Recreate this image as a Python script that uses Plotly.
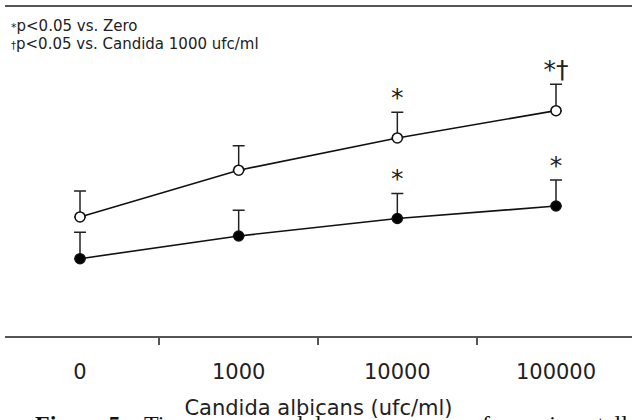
import plotly.graph_objects as go

# ---- data ----
categories = ["0", "1000", "10000", "100000"]
open_mean = [36.2, 50.4, 60.2, 68.5]
open_sd = [7.9, 7.4, 7.8, 8.0]
filled_mean = [23.5, 30.4, 35.7, 39.5]
filled_sd = [8.0, 7.8, 7.6, 7.9]
open_sig = ["", "", "*", "*†"]
filled_sig = ["", "", "*", "*"]
no_lower = [0, 0, 0, 0]

x_title = "Candida albicans (ufc/ml)"
note_1 = "*p<0.05 vs. Zero"
note_2 = "†p<0.05 vs. Candida 1000 ufc/ml"

FONT = "DejaVu Sans"
INK = "#111111"

fig = go.Figure()

for mean, sd, fill in [(filled_mean, filled_sd, "black"), (open_mean, open_sd, "white")]:
    fig.add_trace(go.Scatter(
        x=categories, y=mean, mode="lines+markers",
        line=dict(color=INK, width=1.6),
        marker=dict(symbol="circle", size=10, color=fill, line=dict(color=INK, width=1.5)),
        error_y=dict(type="data", symmetric=False, array=sd, arrayminus=no_lower,
                     color="#222222", thickness=1.5, width=6),
        showlegend=False, hoverinfo="skip",
    ))

for mean, sd, sig in [(open_mean, open_sd, open_sig), (filled_mean, filled_sd, filled_sig)]:
    fig.add_trace(go.Scatter(
        x=categories, y=[m + s for m, s in zip(mean, sd)], mode="text",
        text=sig, textposition="top center",
        textfont=dict(family=FONT, size=25, color="#222222"),
        showlegend=False, hoverinfo="skip",
    ))

cap_font = dict(family="Liberation Serif", size=24, color="#111111")

fig.update_layout(
    width=632, height=420,
    margin=dict(l=5, r=0, t=7, b=84),
    paper_bgcolor="white", plot_bgcolor="white",
    xaxis=dict(
        type="category", categoryorder="array", categoryarray=categories,
        range=[-0.4727, 3.479],
        showline=True, linecolor="#555555", linewidth=2, mirror=True,
        ticks="outside", ticklen=7, tickwidth=1.5, tickcolor="#555555",
        tickson="boundaries", showgrid=False, zeroline=False,
        tickfont=dict(family=FONT, size=21, color="#222222"),
        ticklabelstandoff=16,
        title=dict(text=x_title, font=dict(family=FONT, size=21, color="#222222"), standoff=22),
        automargin=False,
    ),
    yaxis=dict(range=[0, 100], visible=False, automargin=False),
    annotations=[
        dict(text="<b>Figure 5.</b>", xref="paper", yref="paper", x=0.045, y=-0.268,
             xanchor="left", yanchor="middle", showarrow=False, font=cap_font),
        dict(text="Time course and dose response", xref="paper", yref="paper", x=0.218, y=-0.268,
             xanchor="left", yanchor="middle", showarrow=False, font=cap_font),
        dict(text="of experimentally", xref="paper", yref="paper", x=0.738, y=-0.268,
             xanchor="left", yanchor="middle", showarrow=False, font=cap_font),
        dict(text=note_1.replace("*", "<span style='font-size:11px'>*</span>", 1),
             xref="paper", yref="paper", x=0.006, y=0.942, xanchor="left", yanchor="middle",
             showarrow=False, font=dict(family=FONT, size=15, color="#222222")),
        dict(text=note_2.replace("†", "<span style='font-size:10px'>†</span>", 1),
             xref="paper", yref="paper", x=0.006, y=0.888, xanchor="left", yanchor="middle",
             showarrow=False, font=dict(family=FONT, size=15, color="#222222")),
    ],
)

fig.write_html("out.html")
